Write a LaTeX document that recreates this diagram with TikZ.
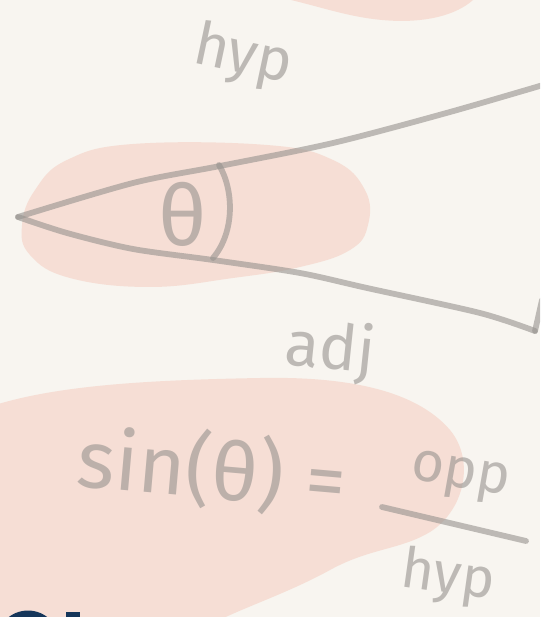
\documentclass[tikz,border=0pt]{standalone}
\usepackage{fontspec}
\setmainfont{Fira Sans}
\usetikzlibrary{positioning}
\definecolor{fundoCreme}{RGB}{248,245,240}
\definecolor{rosaMancha}{RGB}{246,222,213}
\definecolor{cinzaTraco}{RGB}{150,146,142}
\definecolor{azulEscuro}{RGB}{21,54,90}
\tikzset{
  mancha/.style={fill=rosaMancha, draw=none},
  traco/.style={draw=cinzaTraco, draw opacity=0.6, line width=3.3pt,
                line cap=round, line join=round},
  escrita/.style={text=cinzaTraco, text opacity=0.6, inner sep=0pt},
}

\begin{document}
\begin{tikzpicture}[x=0.02cm, y=-0.02cm]
  \useasboundingbox (0,0) rectangle (540,617);
  \clip (0,0) rectangle (540,617);
  \fill[fundoCreme] (0,0) rectangle (540,617);
  % manchas de fundo
  \fill[mancha] (268,-5) .. controls (320,5) and (350,20) .. (400,21)
        .. controls (440,21) and (465,10) .. (478,-5) -- cycle;
  \fill[mancha] plot[smooth cycle, tension=0.7] coordinates {(22,225) (35,190)
        (67,160) (133,144) (267,145) (333,160) (365,190) (368,225) (350,250)
        (300,267) (233,278) (150,287) (70,278) (30,255)};
  \fill[mancha] (-5,405) .. controls (60,385) and (150,380) .. (260,378)
        .. controls (360,376) and (420,395) .. (450,430)
        .. controls (475,460) and (465,510) .. (430,532)
        .. controls (400,550) and (370,548) .. (330,570)
        .. controls (290,592) and (250,605) .. (215,622) -- (-5,622) -- cycle;
  % triangulo
  \coordinate (vertice) at (18,217);
  \coordinate (fimHip) at (560,80);
  \coordinate (fimAdj) at (535,331);
  \coordinate (topoOpo) at (542,300);
  \draw[traco] plot[smooth, tension=0.5] coordinates {(vertice) (133,183)
        (220,166) (333,143) (450,112) (fimHip)};
  \draw[traco] plot[smooth, tension=0.5] coordinates {(vertice) (67,233)
        (133,249) (213,260) (300,273) (367,288) (480,313) (fimAdj)};
  \draw[traco] (fimAdj) -- (topoOpo);
  \coordinate (arcoA) at (219,165);
  \coordinate (arcoB) at (213,258);
  \draw[traco] (arcoA) .. controls (234,190) and (235,232) .. (arcoB);
  % textos
  \node[escrita, font=\fontsize{48}{48}\selectfont] (angulo) at (183,214) {θ};
  \node[escrita, rotate=-12, font=\fontsize{34}{34}\selectfont] (hipTopo)
       at (243,57) {hyp};
  \node[escrita, rotate=-6, font=\fontsize{36}{36}\selectfont] (adjacente)
       at (330,351) {adj};
  \node[escrita, rotate=-5, font=\fontsize{46}{46}\selectfont] (seno)
       at (212,470) {sin(θ) =};
  \node[escrita, rotate=-10, font=\fontsize{32}{32}\selectfont] (oposto)
       at (460,478) {opp};
  \node[escrita, rotate=-8, font=\fontsize{32}{32}\selectfont] (hipBaixo)
       at (448,578) {hyp};
  \coordinate (fracA) at (382,507);
  \coordinate (fracB) at (526,541);
  \draw[traco] (fracA) -- (fracB);
  % letras cortadas no rodape
  \fill[azulEscuro] (28,642) circle[radius=0.63cm];
  \fill[azulEscuro] (66,612) rectangle (80,622);
\end{tikzpicture}
\end{document}
